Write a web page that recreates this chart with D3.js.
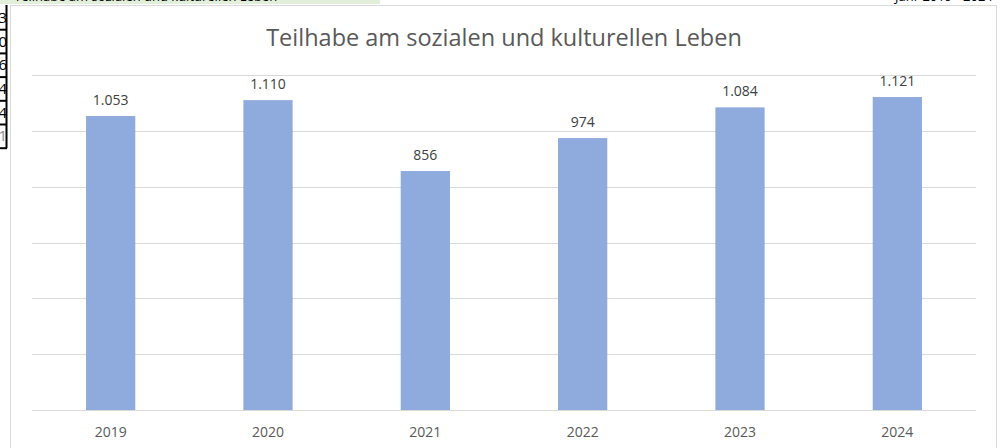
<!DOCTYPE html>
<html>
<head>
<meta charset="utf-8">
<script src="https://cdn.jsdelivr.net/npm/d3@7"></script>
<style>
  body { margin: 0; background: #fff; }
  svg { display: block; font-family: "Open Sans", sans-serif; }
</style>
</head>
<body>
<div id="chart-area"></div>
<script>
// data
var years = ["2019", "2020", "2021", "2022", "2023", "2024"];
var values = [1053, 1110, 856, 974, 1084, 1121];
var yTicks = [0, 200, 400, 600, 800, 1000, 1200];
var sideCells = ["3", "0", "6", "4", "4", "1"];

var W = 1002, H = 448;
var margin = { left: 32, right: 26, top: 75, bottom: 38 };
var width = W - margin.left - margin.right,
    height = H - margin.top - margin.bottom;

var de = d3.formatLocale({ decimal: ",", thousands: ".", grouping: [3], currency: ["", " €"] });
var fmt = de.format(",d");

var svg = d3.select("#chart-area")
    .append("svg")
        .attr("width", W)
        .attr("height", H);

// spreadsheet bits around the chart (cut off in the screenshot)
svg.append("clipPath").attr("id", "topclip")
    .append("rect").attr("x", 0).attr("y", 0).attr("width", W).attr("height", 4);
svg.append("rect")
    .attr("x", 0).attr("y", 0).attr("width", 380).attr("height", 4)
    .attr("fill", "#e2efda");
svg.append("text")
    .attr("clip-path", "url(#topclip)")
    .attr("x", 14).attr("y", 1)
    .attr("font-size", "13px")
    .attr("fill", "#000")
    .text("Teilhabe am sozialen und kulturellen Leben");
svg.append("text")
    .attr("clip-path", "url(#topclip)")
    .attr("x", 895).attr("y", 1)
    .attr("font-size", "13px")
    .attr("fill", "#000")
    .text("Jahr 2019 - 2024");

svg.append("clipPath").attr("id", "leftclip")
    .append("rect").attr("x", 0).attr("y", 0).attr("width", 7).attr("height", H);
var cellH = 23.7;
var cells = svg.append("g").attr("clip-path", "url(#leftclip)");
sideCells.forEach(function(c, i) {
    var y0 = 6 + i * cellH;
    cells.append("line")
        .attr("x1", 0).attr("x2", 8)
        .attr("y1", y0 + cellH).attr("y2", y0 + cellH)
        .attr("stroke", "#000").attr("stroke-width", 2);
    cells.append("text")
        .attr("x", 7).attr("y", y0 + cellH / 2 + 5)
        .attr("text-anchor", "end")
        .attr("font-size", "15px")
        .attr("fill", i == sideCells.length - 1 ? "#888" : "#000")
        .text(c);
});
svg.append("line")
    .attr("x1", 6.5).attr("x2", 6.5).attr("y1", 5).attr("y2", 6 + sideCells.length * cellH)
    .attr("stroke", "#000").attr("stroke-width", 2);

// chart frame
svg.append("rect")
    .attr("x", 10.5).attr("y", 5.5)
    .attr("width", 986).attr("height", H)
    .attr("fill", "#fff")
    .attr("stroke", "#d9d9d9");

// Title
svg.append("text")
    .attr("x", 504)
    .attr("y", 46)
    .attr("font-size", "23.5px")
    .attr("fill", "#595959")
    .attr("text-anchor", "middle")
    .text("Teilhabe am sozialen und kulturellen Leben");

var g = svg.append("g")
    .attr("transform", "translate(" + margin.left + ", " + margin.top + ")");

// X Scale
var x = d3.scaleBand()
    .domain(years)
    .range([0, width])
    .paddingInner(0.687)
    .paddingOuter(0.3435);

// Y Scale
var y = d3.scaleLinear()
    .domain([0, 1200])
    .range([height, 0]);

// gridlines
g.selectAll("line.grid")
    .data(yTicks)
    .enter().append("line")
        .attr("class", "grid")
        .attr("x1", 0).attr("x2", width)
        .attr("y1", function(d){ return Math.round(y(d)) + 0.5; })
        .attr("y2", function(d){ return Math.round(y(d)) + 0.5; })
        .attr("stroke", "#d9d9d9")
        .attr("stroke-width", 1);

// bars
g.selectAll("rect.bar")
    .data(values)
    .enter().append("rect")
        .attr("class", "bar")
        .attr("x", function(d, i){ return x(years[i]); })
        .attr("width", x.bandwidth())
        .attr("y", function(d){ return y(d); })
        .attr("height", function(d){ return height - y(d); })
        .attr("fill", "#8faadc");

// value labels
g.selectAll("text.val")
    .data(values)
    .enter().append("text")
        .attr("class", "val")
        .attr("x", function(d, i){ return x(years[i]) + x.bandwidth() / 2; })
        .attr("y", function(d){ return y(d) - 11; })
        .attr("text-anchor", "middle")
        .attr("font-size", "14px")
        .attr("fill", "#404040")
        .text(function(d){ return fmt(d); });

// X Axis
var xAxisGroup = g.append("g")
    .attr("transform", "translate(0," + height + ")")
    .call(d3.axisBottom(x).tickSize(0).tickPadding(17));
xAxisGroup.select(".domain").remove();
xAxisGroup.selectAll("text")
    .attr("font-size", "14px")
    .attr("font-family", "Open Sans, sans-serif")
    .attr("fill", "#595959");
</script>
</body>
</html>
